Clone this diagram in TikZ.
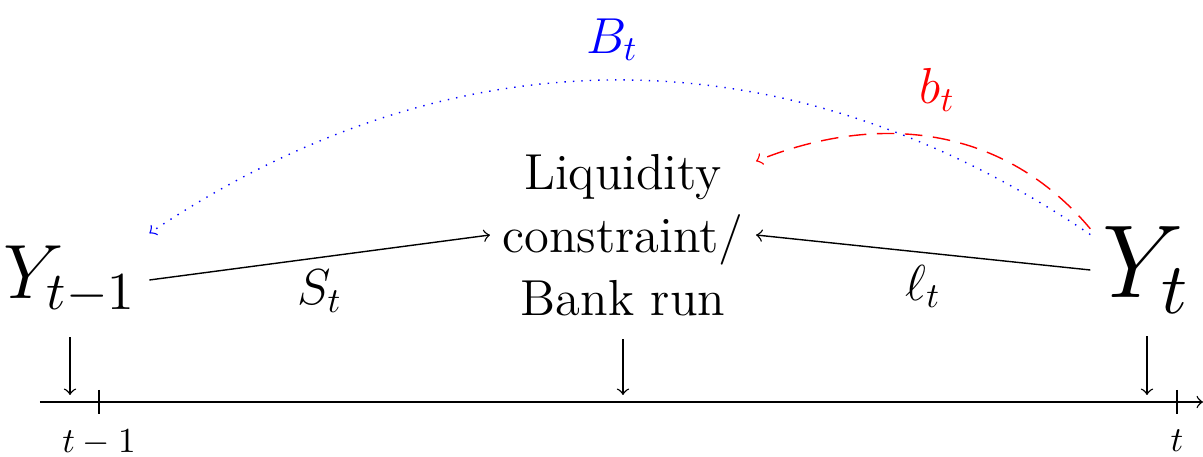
\documentclass[tikz,border=0pt]{standalone}
\usepackage{amsmath}
\usepackage{graphicx}
\usetikzlibrary{calc}

\begin{document}
\begin{tikzpicture}[
    flow/.style={->},
    lbl/.style={font=\Large}
]
\useasboundingbox (0,0) rectangle (12.03,-4.57);

% States at the two ends of the period, event in between
\node[font=\Large] (ylag) at (0.70,-2.80) {\scalebox{1.52}{$Y_{t-1}$}};
\node[font=\Large, align=center] (liq) at (6.23,-2.35)
    {Liquidity\\constraint/\\Bank run};
\node[font=\Large] (ynow) at (11.47,-2.70) {\scalebox{2.05}{$Y_t$}};

% Flows into the constraint
\draw[flow] (ylag.east) -- node[lbl, below] {$S_t$} (liq.west);
\draw[flow] (ynow.west) -- node[lbl, below] {$\ell_t$} (liq.east);

% Arcs back from Y_t
\draw[flow, blue, dotted] (ynow.148) to[bend right=34]
    node[lbl, above=2pt, xshift=-0.08cm] {$B_t$} (ylag.north east);
\draw[flow, red, dash pattern=on 5pt off 3pt] (ynow.144)
    to[out=130, in=22, looseness=1.0]
    node[lbl, above=4pt, pos=0.5] {$b_t$} (liq.29);

% Time line
\coordinate (axstart) at (0.40,-4.02);
\coordinate (axend) at (12.03,-4.02);
\coordinate (hit) at (0,-3.95);
\draw[->] (axstart) -- (axend);
\draw (0.99,-3.90) -- (0.99,-4.14) node[below=1pt] (tlag) {$t-1$};
\draw (11.77,-3.90) -- (11.77,-4.14) node[below=1pt] (tnow) {$t$};

% Where each state sits on the time line
\draw[flow, shorten <=3pt] (ylag.south) -- (ylag.south |- hit);
\draw[flow, shorten <=3pt] (liq.south) -- (liq.south |- hit);
\draw[flow, shorten <=3pt] (ynow.south) -- (ynow.south |- hit);

\end{tikzpicture}
\end{document}
